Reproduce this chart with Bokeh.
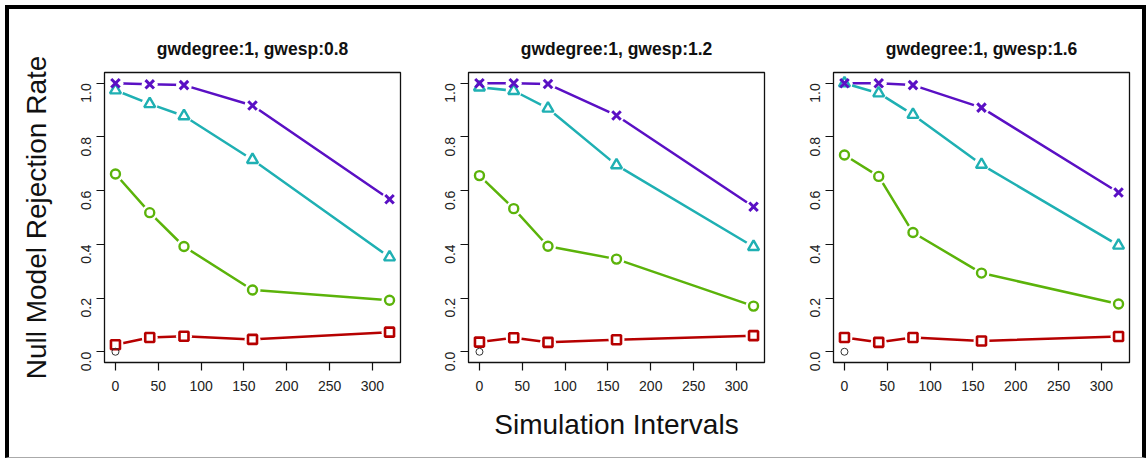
import math
from bokeh.plotting import figure
from bokeh.layouts import row
from bokeh.models import Range1d, FixedTicker, PrintfTickFormatter
from bokeh.embed import file_html
from bokeh.resources import INLINE

# ---- data ----
intervals = [0, 40, 80, 160, 320]
titles = ["gwdegree:1, gwesp:0.8", "gwdegree:1, gwesp:1.2", "gwdegree:1, gwesp:1.6"]

purple_08 = [1.000, 0.996, 0.993, 0.917, 0.568]
cyan_08 = [0.974, 0.923, 0.878, 0.715, 0.352]
green_08 = [0.662, 0.518, 0.392, 0.230, 0.192]
red_08 = [0.026, 0.053, 0.058, 0.046, 0.073]

purple_12 = [1.000, 1.000, 0.997, 0.880, 0.540]
cyan_12 = [0.985, 0.972, 0.906, 0.695, 0.391]
green_12 = [0.656, 0.533, 0.393, 0.345, 0.170]
red_12 = [0.036, 0.052, 0.035, 0.045, 0.060]

purple_16 = [1.000, 1.000, 0.993, 0.909, 0.593]
cyan_16 = [1.000, 0.963, 0.883, 0.697, 0.396]
green_16 = [0.733, 0.653, 0.444, 0.293, 0.178]
red_16 = [0.053, 0.035, 0.053, 0.040, 0.057]

null_x = [0]
null_y = [0.0]

x_ticks = [0, 50, 100, 150, 200, 250, 300]
y_ticks = [0.0, 0.2, 0.4, 0.6, 0.8, 1.0]

panels = [
    (purple_08, cyan_08, green_08, red_08),
    (purple_12, cyan_12, green_12, red_12),
    (purple_16, cyan_16, green_16, red_16),
]

C_PURPLE = "#5a10c4"
C_CYAN = "#1fb0b3"
C_GREEN = "#5bb30a"
C_RED = "#b60000"

FONT = "Liberation Sans"

widths = [425, 365, 343]
borders_lr = [(95, 34), (34, 35), (34, 13)]
H = 448


def make_panel(i):
    pu, cy, gr, rd = panels[i]
    bl, br = borders_lr[i]
    p = figure(width=widths[i], height=H, output_backend="svg", toolbar_location=None,
               x_range=Range1d(-12.8, 332.8), y_range=Range1d(-0.04, 1.04),
               min_border_left=bl, min_border_right=br, min_border_top=63, min_border_bottom=95)
    p.title.text = titles[i]
    p.title.align = "center"
    p.title.text_font = FONT
    p.title.text_font_size = "17.5px"
    p.title.text_font_style = "bold"
    p.title.text_color = "#111111"
    p.title.standoff = 28
    p.xgrid.grid_line_color = None
    p.ygrid.grid_line_color = None
    p.outline_line_color = "#111111"
    p.outline_line_width = 1.3
    p.background_fill_color = "white"
    p.border_fill_color = "white"

    for ax in (p.xaxis[0], p.yaxis[0]):
        ax.minor_tick_line_color = None
        ax.major_tick_in = 0
        ax.major_tick_out = 8
        ax.major_tick_line_color = "#111111"
        ax.major_tick_line_width = 1.2
        ax.axis_line_color = "#111111"
        ax.major_label_text_font = FONT
        ax.major_label_text_font_size = "14px"
        ax.major_label_text_color = "#222222"
        ax.axis_label_text_font = FONT
        ax.axis_label_text_font_style = "normal"
        ax.axis_label_text_font_size = "28px"
        ax.axis_label_text_color = "#111111"
    p.xaxis[0].ticker = FixedTicker(ticks=x_ticks)
    p.yaxis[0].ticker = FixedTicker(ticks=y_ticks)
    p.yaxis[0].formatter = PrintfTickFormatter(format="%.1f")
    p.yaxis[0].major_label_orientation = math.pi / 2
    p.xaxis[0].major_label_standoff = 10
    p.yaxis[0].major_label_standoff = 10
    if i == 0:
        p.yaxis[0].axis_label = "Null Model Rejection Rate"
        p.yaxis[0].axis_label_standoff = 22
    if i == 1:
        p.xaxis[0].axis_label = "Simulation Intervals"
        p.xaxis[0].axis_label_standoff = 15

    series = [(pu, C_PURPLE, "x", 12, 3.0), (cy, C_CYAN, "triangle", 11, 2.4),
              (gr, C_GREEN, "circle", 9, 2.4), (rd, C_RED, "square", 9, 2.6)]
    for ys, col, mk, sz, lw in series:
        p.line(intervals, ys, line_color=col, line_width=2.5)
    for ys, col, mk, sz, lw in series:
        p.scatter(intervals, ys, marker="circle", size=16, fill_color="white", line_color=None)
    for ys, col, mk, sz, lw in reversed(series):
        p.scatter(intervals, ys, marker=mk, size=sz, fill_color="white" if mk != "x" else None,
                  line_color=col, line_width=lw)
    p.scatter(null_x, null_y, marker="circle", size=7, fill_color=None, line_color="#333333", line_width=1)
    return p


figs = [make_panel(i) for i in range(3)]
layout = row(*figs, styles={
    "border-left": "4px solid black",
    "border-top": "4px solid black",
    "border-right": "4px solid black",
    "border-bottom": "1px solid #aaaaaa",
    "margin-left": "5px",
    "margin-top": "5px",
})

open("out.html", "w").write(file_html(layout, INLINE))
